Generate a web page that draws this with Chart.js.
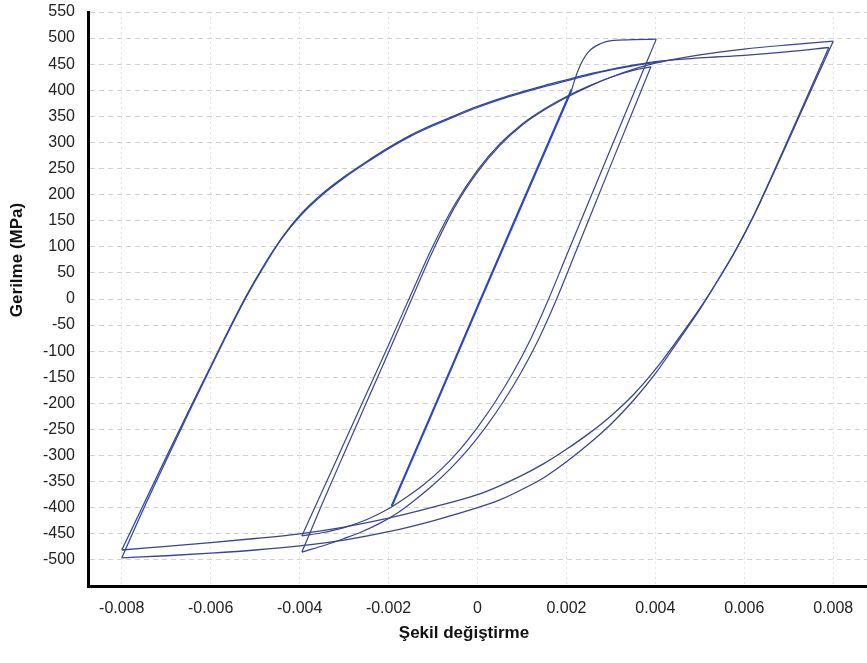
<!DOCTYPE html>
<html>
<head>
<meta charset="utf-8">
<title>Gerilme - Şekil değiştirme</title>
<style>
  html, body { margin: 0; padding: 0; background: #ffffff; }
  #wrap { width: 867px; height: 663px; position: relative; overflow: hidden; }
  canvas { display: block; }
</style>
<script src="https://cdn.jsdelivr.net/npm/chart.js@4.4.1/dist/chart.umd.min.js"></script>
</head>
<body>
<div id="wrap"><canvas id="loops" width="867" height="663"></canvas></div>
<script>
// Axis ticks
const strainTicks = [-0.008, -0.006, -0.004, -0.002, 0, 0.002, 0.004, 0.006, 0.008];
const stressTicks = [-500, -450, -400, -350, -300, -250, -200, -150, -100, -50, 0,
                     50, 100, 150, 200, 250, 300, 350, 400, 450, 500, 550];

const xTitle = 'Şekil değiştirme';
const yTitle = 'Gerilme (MPa)';

// Elastic cycles at ±0.002 (retraced several times)
const elasticStrain = [-0.00193, -0.001, 0, 0.001, 0.00212];
const elasticStress = [-397, -214, -15, 182, 402];

// First yielding up to +0.004
const yieldStrain = [0.00212, 0.00227, 0.00249, 0.00279, 0.00301, 0.0035, 0.00402];
const yieldStress = [402, 440, 473, 490, 495, 497, 498];

// ±0.004 cycles
const unload1Strain = [0.00402, 0.003, 0.002, 0.0016, 0.0012, 0.0008, 0.0004, 0, -0.0004,
                       -0.0008, -0.0012, -0.0016, -0.002, -0.0025, -0.003, -0.0035, -0.00395];
const unload1Stress = [498, 289, 83, 0, -76, -141, -197, -246, -289, -325, -355, -380, -402,
                       -423, -438, -448, -454];

const reload1Strain = [-0.00395, -0.0035, -0.003, -0.0025, -0.002, -0.0015, -0.001, -0.0005,
                       0, 0.0005, 0.001, 0.0015, 0.002, 0.0025, 0.003, 0.0035, 0.0039];
const reload1Stress = [-454, -370, -276, -182, -88, 8, 102, 183, 247, 297, 335, 364, 388,
                       408, 425, 438, 445];

const unload2Strain = [0.0039, 0.003, 0.0022, 0.00178, 0.00138, 0.00098, 0.00058, 0.00018,
                       -0.00022, -0.00062, -0.00102, -0.00142, -0.0018, -0.0022, -0.0026,
                       -0.003, -0.0034, -0.00395];
const unload2Stress = [445, 257, 88, 0, -76, -141, -197, -246, -289, -326, -358, -386, -410,
                       -430, -446, -459, -471, -485];

// Reloading from -0.004 out to +0.008
const reload2Strain = [-0.00395, -0.0035, -0.003, -0.0025, -0.002, -0.0015, -0.001, -0.0005,
                       0, 0.0005, 0.001, 0.0015, 0.002, 0.0025, 0.003, 0.0035, 0.004,
                       0.005, 0.006, 0.007, 0.008];
const reload2Stress = [-485, -394, -296, -199, -102, -4, 93, 178, 243, 294, 333, 362, 386,
                       407, 425, 440, 452, 468, 479, 487, 494];

// ±0.008 cycles
const bigDown1Strain = [0.008, 0.0073, 0.0066, 0.0062, 0.0058, 0.0054, 0.005, 0.0045, 0.004,
                        0.0035, 0.003, 0.0025, 0.002, 0.0015, 0.001, 0.0005, 0, -0.001,
                        -0.002, -0.003, -0.004, -0.005, -0.006, -0.007, -0.008];
const bigDown1Stress = [494, 362, 230, 157, 92, 35, -18, -78, -135, -184, -224, -258, -288,
                        -315, -338, -358, -375, -399, -420, -437, -450, -459, -467, -474, -481];

const bigUp1Strain = [-0.008, -0.0075, -0.007, -0.0065, -0.006, -0.0056, -0.0052, -0.0048,
                      -0.0044, -0.004, -0.0035, -0.003, -0.0025, -0.002, -0.0015, -0.001,
                      -0.0005, 0, 0.0005, 0.001, 0.0015, 0.002, 0.0025, 0.003, 0.0035,
                      0.004, 0.005, 0.006, 0.007, 0.0079];
const bigUp1Stress = [-481, -392, -303, -215, -129, -60, 6, 65, 117, 160, 201, 234, 263, 290,
                      314, 334, 352, 369, 384, 397, 409, 420, 431, 440, 448, 455, 462, 467,
                      474, 482];

const bigDown2Strain = [0.0079, 0.0073, 0.0066, 0.0062, 0.0058, 0.0054, 0.005, 0.0045, 0.004,
                        0.0035, 0.003, 0.0025, 0.002, 0.0015, 0.001, 0.0005, 0, -0.001,
                        -0.002, -0.003, -0.004, -0.005, -0.006, -0.007, -0.008];
const bigDown2Stress = [482, 366, 232, 158, 93, 35, -20, -82, -143, -195, -240, -278, -312,
                        -342, -365, -385, -400, -425, -446, -462, -473, -481, -487, -492, -496];

const bigUp2Strain = [-0.008, -0.0075, -0.007, -0.0065, -0.006, -0.0056, -0.0052, -0.0048,
                      -0.0044, -0.004, -0.0035, -0.003, -0.0025, -0.002, -0.0015, -0.001,
                      -0.0005, 0, 0.0005, 0.001, 0.0015, 0.002, 0.0025, 0.003, 0.0035, 0.0042];
const bigUp2Stress = [-496, -400, -309, -219, -131, -62, 4, 63, 116, 158, 199, 232, 261, 288,
                      312, 332, 350, 367, 382, 395, 407, 418, 429, 439, 447, 456];

const FONT = "'Liberation Sans', Arial, sans-serif";
const LINE = '#38458f';
const BRIGHT = '#2b46c6';

function branch(strain, stress, color, width) {
  return {
    data: strain.map((s, i) => ({ x: s, y: stress[i] })),
    showLine: true,
    borderColor: color,
    backgroundColor: color,
    borderWidth: width,
    pointRadius: 0,
    pointHoverRadius: 0,
    fill: false,
    cubicInterpolationMode: 'monotone'
  };
}

const datasets = [
  branch(bigDown1Strain, bigDown1Stress, LINE, 1.3),
  branch(bigDown2Strain, bigDown2Stress, LINE, 1.3),
  branch(bigUp1Strain, bigUp1Stress, LINE, 1.3),
  branch(bigUp2Strain, bigUp2Stress, BRIGHT, 1.3),
  branch(unload1Strain, unload1Stress, LINE, 1.2),
  branch(reload1Strain, reload1Stress, LINE, 1.2),
  branch(unload2Strain, unload2Stress, LINE, 1.2),
  branch(reload2Strain, reload2Stress, LINE, 1.2),
  branch(yieldStrain, yieldStress, LINE, 1.2),
  branch(elasticStrain, elasticStress, BRIGHT, 2.2)
];

function strainLabel(v) {
  const r = Math.round(v * 1000) / 1000;
  return r === 0 ? '0' : r.toFixed(3);
}

// Axis titles placed beside the axes
const axisTitles = {
  id: 'axisTitles',
  afterDraw(chart) {
    const { ctx, chartArea } = chart;
    ctx.save();
    ctx.font = 'bold 17px ' + FONT;
    ctx.fillStyle = '#111111';
    ctx.textAlign = 'center';
    ctx.textBaseline = 'middle';
    ctx.fillText(xTitle, chartArea.left + 376, chartArea.bottom + 47);
    ctx.translate(17, chartArea.top + 248);
    ctx.rotate(-Math.PI / 2);
    ctx.fillText(yTitle, 0, 0);
    ctx.restore();
  }
};

new Chart(document.getElementById('loops'), {
  type: 'scatter',
  data: { datasets },
  plugins: [axisTitles],
  options: {
    responsive: false,
    animation: false,
    events: [],
    layout: { padding: { top: 12, right: 0, bottom: 0, left: 0 } },
    plugins: { legend: { display: false }, tooltip: { enabled: false } },
    scales: {
      x: {
        type: 'linear',
        position: 'bottom',
        min: -0.00876,
        max: 0.00876,
        afterBuildTicks: s => { s.ticks = strainTicks.map(v => ({ value: v })); },
        afterFit: s => { s.height = 77; s.paddingLeft = 0; s.paddingRight = 0; },
        ticks: {
          font: { family: FONT, size: 16 },
          color: '#222222',
          padding: 13,
          maxRotation: 0,
          autoSkip: false,
          callback: v => strainLabel(v)
        },
        grid: { color: '#e3e3e3', lineWidth: 1, drawTicks: false },
        border: { display: true, color: '#000000', width: 3, dash: [2, 3] }
      },
      y: {
        type: 'linear',
        min: -550,
        max: 550,
        afterBuildTicks: s => { s.ticks = stressTicks.map(v => ({ value: v })); },
        afterFit: s => { s.width = 88; s.paddingTop = 0; s.paddingBottom = 0; },
        ticks: {
          font: { family: FONT, size: 16 },
          color: '#222222',
          padding: 13,
          autoSkip: false,
          callback: v => String(v)
        },
        grid: { color: '#d2d2d2', lineWidth: 1, drawTicks: false },
        border: { display: true, color: '#000000', width: 3, dash: [5, 4] }
      }
    }
  }
});
</script>
</body>
</html>
